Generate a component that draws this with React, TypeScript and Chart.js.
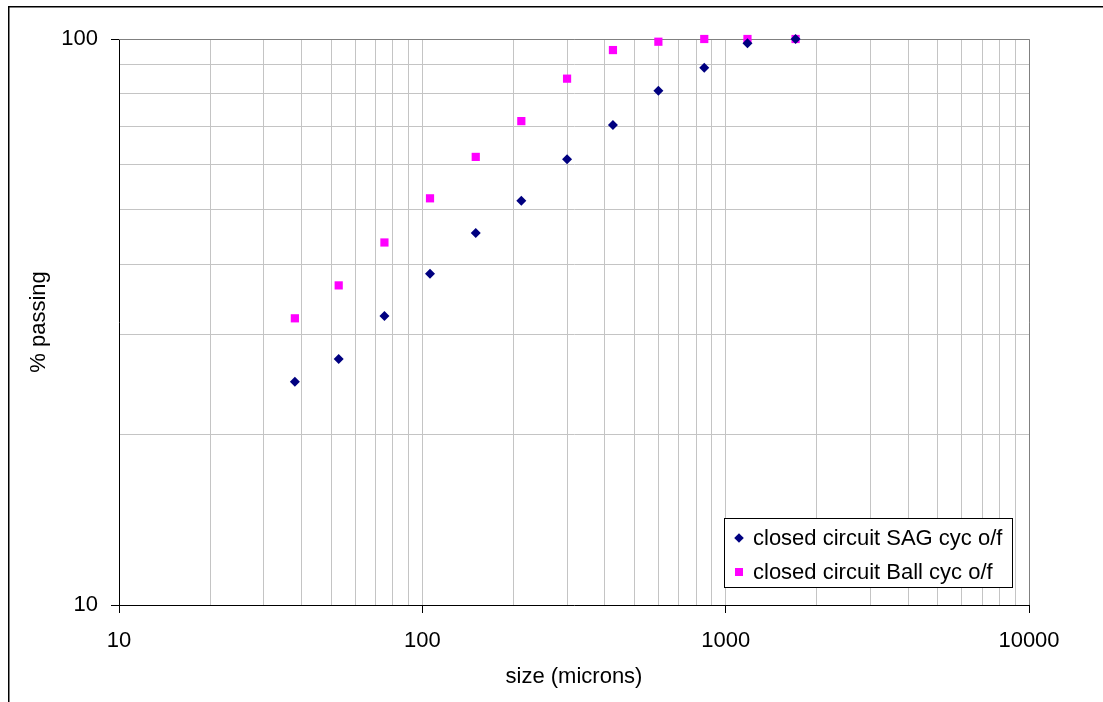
import React, { useEffect, useRef } from 'react';
import { Chart, registerables } from 'chart.js';

Chart.register(...registerables);

// ---- data ----
const sizes = [38, 53, 75, 106, 150, 212, 300, 425, 600, 850, 1180, 1700];
const sagPassing = [24.8, 27.2, 32.4, 38.5, 45.4, 51.8, 61.3, 70.5, 81.0, 89.0, 98.3, 100];
const ballPassing = [32.1, 36.7, 43.7, 52.3, 61.9, 71.6, 85.1, 95.6, 98.9, 100, 100, 100];
const seriesNames = ['closed circuit SAG cyc o/f', 'closed circuit Ball cyc o/f'];
const seriesColors = ['#000080', '#FF00FF'];

const xTickValues = [
  10, 20, 30, 40, 50, 60, 70, 80, 90,
  100, 200, 300, 400, 500, 600, 700, 800, 900,
  1000, 2000, 3000, 4000, 5000, 6000, 7000, 8000, 9000,
  10000,
];
const yTickValues = [10, 20, 30, 40, 50, 60, 70, 80, 90, 100];
const xTickLabels = ['10', '100', '1000', '10000'];
const yTickLabels = ['10', '100'];
const xTitle = 'size (microns)';
const yTitle = '% passing';

const FONT = '"Liberation Sans", Arial, sans-serif';

const framePlugin = {
  id: 'frame',
  beforeDatasetsDraw(chart: any) {
    const { ctx, chartArea } = chart;
    ctx.save();
    ctx.strokeStyle = '#808080';
    ctx.lineWidth = 1;
    ctx.beginPath();
    ctx.moveTo(chartArea.left, Math.round(chartArea.top) + 0.5);
    ctx.lineTo(chartArea.right + 0.5, Math.round(chartArea.top) + 0.5);
    ctx.lineTo(chartArea.right + 0.5, chartArea.bottom);
    ctx.stroke();
    ctx.restore();
  },
  afterDraw(chart: any) {
    const { ctx, width, height } = chart;
    ctx.save();
    ctx.strokeStyle = '#000';
    ctx.lineWidth = 1.5;
    ctx.beginPath();
    ctx.moveTo(8.75, height);
    ctx.lineTo(8.75, 6.75);
    ctx.lineTo(width, 6.75);
    ctx.stroke();
    ctx.restore();
  },
};

const legendPlugin = {
  id: 'insideLegend',
  afterDatasetsDraw(chart: any) {
    const { ctx, chartArea } = chart;
    const w = 288;
    const h = 69;
    const x = Math.round(chartArea.right - 17 - w);
    const y = Math.round(chartArea.bottom - 18 - h);
    ctx.save();
    ctx.fillStyle = '#fff';
    ctx.fillRect(x, y, w, h);
    ctx.strokeStyle = '#000';
    ctx.lineWidth = 1;
    ctx.strokeRect(x + 0.5, y + 0.5, w, h);
    ctx.font = `22px ${FONT}`;
    ctx.textBaseline = 'middle';
    ctx.textAlign = 'left';
    const rows = [y + 20, y + 54];
    const mx = x + 15;
    ctx.fillStyle = seriesColors[0];
    ctx.beginPath();
    ctx.moveTo(mx - 4.8, rows[0]);
    ctx.lineTo(mx, rows[0] - 4.8);
    ctx.lineTo(mx + 4.8, rows[0]);
    ctx.lineTo(mx, rows[0] + 4.8);
    ctx.closePath();
    ctx.fill();
    ctx.fillStyle = seriesColors[1];
    ctx.fillRect(mx - 4, rows[1] - 4, 8, 8);
    ctx.fillStyle = '#000';
    ctx.fillText(seriesNames[0], x + 29, rows[0] + 1);
    ctx.fillText(seriesNames[1], x + 29, rows[1] + 1);
    ctx.restore();
  },
};

export default function App() {
  const canvasRef = useRef<HTMLCanvasElement | null>(null);

  useEffect(() => {
    const canvas = canvasRef.current;
    if (!canvas) return;
    const chart = new Chart(canvas, {
      type: 'scatter',
      data: {
        datasets: [
          {
            label: seriesNames[0],
            data: sizes.map((s, i) => ({ x: s, y: sagPassing[i] })),
            backgroundColor: seriesColors[0],
            borderColor: seriesColors[0],
            borderWidth: 0,
            pointStyle: 'rectRot',
            pointRadius: 5,
            clip: false as any,
          },
          {
            label: seriesNames[1],
            data: sizes.map((s, i) => ({ x: s, y: ballPassing[i] })),
            backgroundColor: seriesColors[1],
            borderColor: seriesColors[1],
            borderWidth: 0,
            pointStyle: 'rect',
            pointRadius: 5.8,
            clip: false as any,
          },
        ],
      },
      options: {
        responsive: false,
        animation: false,
        devicePixelRatio: 1,
        layout: { padding: { left: 0, top: 39, right: 74, bottom: 0 } },
        plugins: {
          legend: { display: false },
          tooltip: { enabled: false },
        },
        scales: {
          x: {
            type: 'logarithmic',
            min: 10,
            max: 10000,
            afterBuildTicks: (scale: any) => {
              scale.ticks = xTickValues.map((v) => ({ value: v }));
            },
            afterFit: (scale: any) => {
              scale.height = 97;
            },
            ticks: {
              autoSkip: false,
              maxRotation: 0,
              padding: 15,
              color: '#000',
              font: { family: FONT, size: 22 },
              callback: (value: any) => (xTickLabels.includes(String(value)) ? String(value) : ''),
            },
            grid: {
              color: '#c4c4c4',
              lineWidth: 1,
              tickLength: 8,
              tickColor: (ctx: any) =>
                ctx.tick && xTickLabels.includes(String(ctx.tick.value)) ? '#000' : 'rgba(0,0,0,0)',
            },
            border: { color: '#000', width: 1 },
            title: {
              display: true,
              text: xTitle,
              color: '#000',
              font: { family: FONT, size: 22 },
              padding: { top: 0, bottom: 12 },
            },
          },
          y: {
            type: 'logarithmic',
            min: 10,
            max: 100,
            afterBuildTicks: (scale: any) => {
              scale.ticks = yTickValues.map((v) => ({ value: v }));
            },
            afterFit: (scale: any) => {
              scale.width = 119;
            },
            ticks: {
              autoSkip: false,
              padding: 13,
              color: '#000',
              font: { family: FONT, size: 22 },
              callback: (value: any) => (yTickLabels.includes(String(value)) ? String(value) : ''),
            },
            grid: {
              color: '#c4c4c4',
              lineWidth: 1,
              tickLength: 8,
              tickColor: (ctx: any) =>
                ctx.tick && yTickLabels.includes(String(ctx.tick.value)) ? '#000' : 'rgba(0,0,0,0)',
            },
            border: { color: '#000', width: 1 },
            title: {
              display: true,
              text: yTitle,
              color: '#000',
              font: { family: FONT, size: 22 },
              padding: { top: 26, bottom: 0 },
            },
          },
        },
      },
      plugins: [framePlugin, legendPlugin],
    });
    return () => chart.destroy();
  }, []);

  return (
    <div style={{ position: 'absolute', left: 0, top: 0, width: 1103, height: 702, background: '#fff' }}>
      <canvas ref={canvasRef} width={1103} height={702} style={{ display: 'block' }} />
    </div>
  );
}
